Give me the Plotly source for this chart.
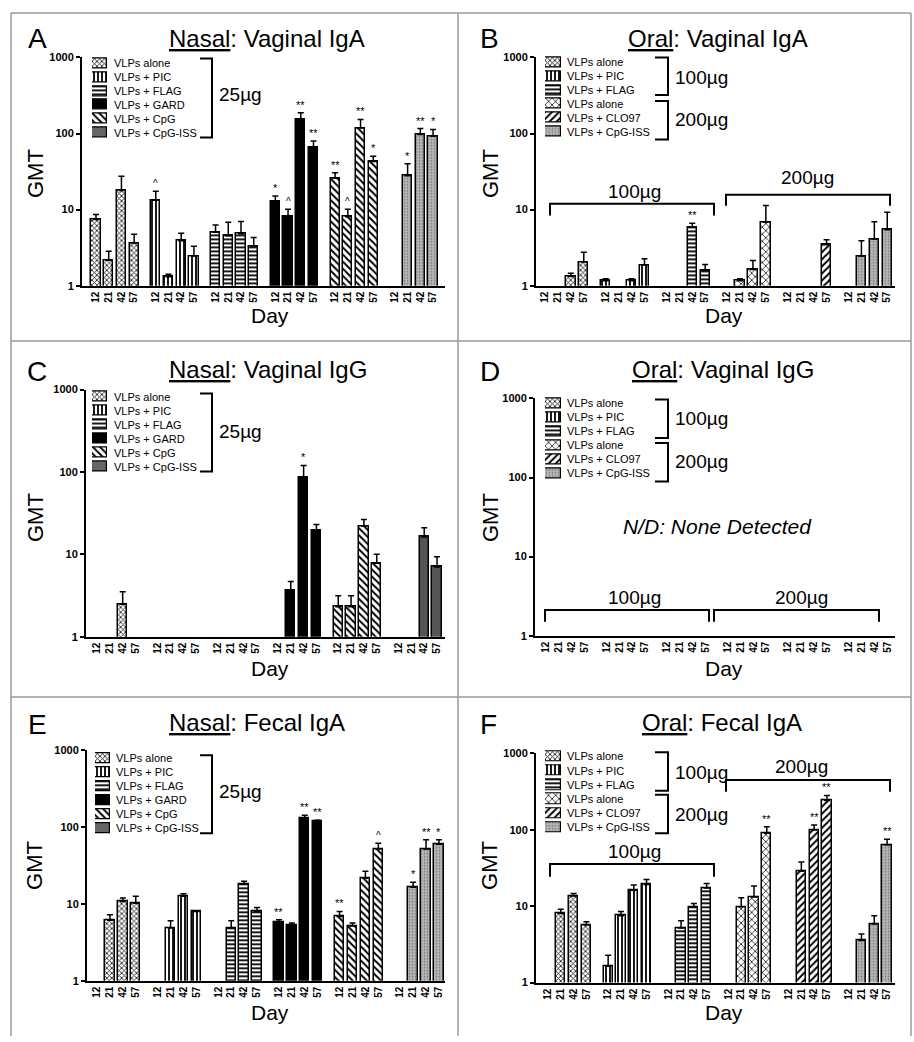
import plotly.graph_objects as go
import numpy as np

W, H = 914, 1042
FONT = "Liberation Sans, Arial, sans-serif"


def px(x):
    return x / W


def py(y):
    return 1 - y / H


# ---------------- data ----------------
days = ["12", "21", "42", "57"]
nasal_groups = ["VLPs alone", "VLPs + PIC", "VLPs + FLAG", "VLPs + GARD", "VLPs + CpG", "VLPs + CpG-ISS"]
oral_groups = ["VLPs alone", "VLPs + PIC", "VLPs + FLAG", "VLPs alone", "VLPs + CLO97", "VLPs + CpG-ISS"]
nasal_dose = ["25µg"]
oral_doses = ["100µg", "200µg"]

# Panel A: Nasal, vaginal IgA (GMT, upper error bar, significance)
A_mean = [[7.4, 2.17, 17.9, 3.64], [13.3, 1.31, 3.9, 2.45], [5.05, 4.53, 4.81, 3.33],
          [13.0, 8.06, 154, 65], [26, 8.06, 118, 42.8], [None, 27.9, 96.7, 92]]
A_upper = [[8.6, 2.84, 27.4, 4.76], [17.5, 1.42, 4.9, 3.3], [6.3, 6.8, 7.0, 4.31],
           [15.1, 10.1, 188, 80], [30.5, 10.1, 153, 50.2], [None, 40, 116, 113]]
A_sig = [["", "", "", ""], ["^", "", "", ""], ["", "", "", ""],
         ["*", "^", "**", "**"], ["**", "^", "**", "*"], ["", "*", "**", "*"]]

# Panel B: Oral, vaginal IgA
B_mean = [[None, None, 1.32, 2.05], [1.16, None, 1.16, 1.87], [None, None, 5.93, 1.6],
          [None, 1.16, 1.64, 6.8], [None, None, None, 3.46], [None, 2.45, 4.1, 5.42]]
B_upper = [[None, None, 1.46, 2.75], [1.24, None, 1.24, 2.26], [None, None, 6.61, 1.9],
           [None, 1.24, 2.15, 11.3], [None, None, None, 4.02], [None, 3.9, 6.95, 9.27]]
B_sig = [["", "", "", ""], ["", "", "", ""], ["", "", "**", ""],
         ["", "", "", ""], ["", "", "", ""], ["", "", "", ""]]

# Panel C: Nasal, vaginal IgG
C_mean = [[None, None, 2.48, None], [None] * 4, [None] * 4,
          [None, 3.6, 84.6, 19.2], [2.31, 2.31, 22, 7.78], [None, None, 16.2, 7.03]]
C_upper = [[None, None, 3.5, None], [None] * 4, [None] * 4,
           [None, 4.67, 120, 23], [3.13, 3.13, 26.5, 10], [None, None, 21, 9.3]]
C_sig = [["", "", "", ""], ["", "", "", ""], ["", "", "", ""],
         ["", "", "*", ""], ["", "", "", ""], ["", "", "", ""]]

# Panel D: Oral, vaginal IgG (none detected)
D_mean = [[None] * 4 for _ in range(6)]
D_upper = [[None] * 4 for _ in range(6)]
D_sig = [[""] * 4 for _ in range(6)]

# Panel E: Nasal, fecal IgA
E_mean = [[None, 6.1, 10.7, 10.2], [None, 4.86, 12.6, 7.98], [None, 4.86, 18.2, 7.98],
          [5.69, 5.25, 129, 118], [6.87, 5.15, 21.6, 51.7], [None, 16.5, 51.7, 60]]
E_upper = [[None, 7.2, 11.9, 12.6], [None, 6.04, 13.5, 8.1], [None, 6.04, 19.7, 9.0],
           [6.22, 5.63, 143, 123], [7.98, 5.63, 26.6, 61.8], [None, 19.1, 68.2, 68.2]]
E_sig = [["", "", "", ""], ["", "", "", ""], ["", "", "", ""],
         ["**", "", "**", "**"], ["**", "", "", "^"], ["", "*", "**", "*"]]

# Panel F: Oral, fecal IgA
F_mean = [[None, 8.04, 13.6, 5.68], [1.64, 7.5, 16.1, 19.2], [None, 5.2, 9.8, 17.3],
          [None, 9.8, 13.2, 89.7], [None, 28.6, 99, 242], [None, 3.56, 5.85, 63.4]]
F_upper = [[None, 9.14, 14.7, 6.27], [2.28, 8.53, 18.9, 22.3], [None, 6.46, 10.8, 19.8],
           [None, 12.9, 18.3, 109], [None, 37.8, 115, 281], [None, 4.34, 7.5, 75]]
F_sig = [["", "", "", ""], ["", "", "", ""], ["", "", "", ""],
         ["", "", "", "**"], ["", "", "**", "**"], ["", "", "", "**"]]

GROUP_STEP = 4.7

# ---------------- styles ----------------
def pat(shape, size, sol, fg="black", bg="white"):
    return dict(shape=shape, size=size, solidity=sol, fgcolor=fg, bgcolor=bg, fillmode="replace")

ST = {
    "alone": dict(color="white", pattern=pat("x", 3.5, 0.45, "#222", "white")),
    "alone2": dict(color="white", pattern=pat("x", 5, 0.3, "#222", "white")),
    "pic": dict(color="white", pattern=pat("|", 4, 0.45)),
    "flag": dict(color="white", pattern=pat("-", 4, 0.45)),
    "gard": dict(color="black", pattern=pat("", 4, 0.3, "black", "black")),
    "cpg": dict(color="white", pattern=pat("\\", 5, 0.4)),
    "clo": dict(color="white", pattern=pat("/", 5, 0.4)),
    "iss": dict(color="#a8a8a8", pattern=pat(".", 3, 0.2, "#6e6e6e", "#b4b4b4")),
    "issdark": dict(color="#555", pattern=pat("", 4, 0.3, "#555", "#555")),
    "isslegend": dict(color="#666", pattern=pat("", 4, 0.3, "#666", "#666")),
}

nasal_st = ["alone", "pic", "flag", "gard", "cpg", "iss"]
oral_st = ["alone", "pic", "flag", "alone2", "clo", "iss"]

panels = [
    dict(letter="A", route="Nasal", sub=": Vaginal IgA", kind="nasal", mean=A_mean, upper=A_upper, sig=A_sig,
         st=nasal_st, leg_st=nasal_st[:5] + ["isslegend"],
         xd=(82, 445), yd=(283, 52), xr=(-1.1, 27.44), letter_xy=(37, 33), title_xy=(267, 33),
         gmt_xy=(35, 170), day_xy=(270, 313), leg=dict(x=(92, 107), y=(51, 135), tx=112),
         lb=[(200, 212, 53, 133, 217, 90)], hb=[]),
    dict(letter="B", route="Oral", sub=": Vaginal IgA", kind="oral", mean=B_mean, upper=B_upper, sig=B_sig,
         st=oral_st, leg_st=oral_st,
         xd=(536, 895), yd=(283, 52), xr=(-0.7, 27.1), letter_xy=(489, 33), title_xy=(718, 33),
         gmt_xy=(490, 170), day_xy=(724, 313), leg=dict(x=(545, 561), y=(50, 134), tx=565),
         lb=[(655, 668, 52, 90, 673, 72), (655, 668, 96, 135, 673, 115)],
         hb=[(550, 714, 200, 212, 634, 188), (726, 890, 191, 202, 807, 174)]),
    dict(letter="C", route="Nasal", sub=": Vaginal IgG", kind="nasal", mean=C_mean, upper=C_upper, sig=C_sig,
         st=nasal_st[:5] + ["issdark"], leg_st=nasal_st[:5] + ["isslegend"],
         xd=(86, 445), yd=(638, 388), xr=(-0.86, 27.12), letter_xy=(37, 370), title_xy=(268, 368),
         gmt_xy=(35, 518), day_xy=(270, 670), leg=dict(x=(92, 107), y=(388, 473), tx=112),
         lb=[(200, 212, 392, 471, 217, 430)], hb=[]),
    dict(letter="D", route="Oral", sub=": Vaginal IgG", kind="oral", mean=D_mean, upper=D_upper, sig=D_sig,
         st=oral_st, leg_st=oral_st,
         xd=(535, 895), yd=(637, 397), xr=(-0.85, 27.1), letter_xy=(490, 370), title_xy=(723, 368),
         gmt_xy=(490, 518), day_xy=(724, 670), leg=dict(x=(545, 561), y=(395, 480), tx=565),
         lb=[(655, 668, 398, 437, 673, 417), (655, 668, 442, 481, 673, 461)],
         hb=[(545, 709, 611, 623, 634, 598), (714, 879, 611, 623, 801, 598)],
         nd=(717, 527)),
    dict(letter="E", route="Nasal", sub=": Fecal IgA", kind="nasal", mean=E_mean, upper=E_upper, sig=E_sig,
         st=nasal_st, leg_st=nasal_st[:5] + ["isslegend"],
         xd=(87, 445), yd=(986, 753), xr=(-0.78, 26.97), letter_xy=(37, 727), title_xy=(257, 725),
         gmt_xy=(35, 870), day_xy=(270, 1018), leg=dict(x=(95, 110), y=(754, 839), tx=114),
         lb=[(200, 212, 758, 837, 217, 795)], hb=[]),
    dict(letter="F", route="Oral", sub=": Fecal IgA", kind="oral", mean=F_mean, upper=F_upper, sig=F_sig,
         st=oral_st, leg_st=oral_st,
         xd=(536, 895), yd=(988, 756), xr=(-0.94, 27.12), letter_xy=(488, 727), title_xy=(722, 725),
         gmt_xy=(490, 870), day_xy=(724, 1018), leg=dict(x=(545, 561), y=(752, 838), tx=565),
         lb=[(655, 668, 755, 794, 673, 775), (655, 668, 798, 837, 673, 818)],
         hb=[(550, 714, 868, 881, 634, 855), (726, 890, 783, 795, 801, 769)]),
]

fig = go.Figure()
layout = dict(width=W, height=H, autosize=False, margin=dict(l=0, r=0, t=0, b=0),
              paper_bgcolor="white", plot_bgcolor="rgba(0,0,0,0)", showlegend=False,
              font=dict(family=FONT, color="black"), bargap=0)
annotations = []
shapes = []

positions = [g * GROUP_STEP + i for g in range(6) for i in range(4)]
ticktext = days * 6


def ann(x, y, text, size, **kw):
    d = dict(x=px(x), y=py(y), xref="paper", yref="paper", text=text, showarrow=False,
             font=dict(family=FONT, size=size, color="black"))
    d.update(kw)
    annotations.append(d)


def path_shape(pts):
    p = "M " + " L ".join(f"{px(a):.5f},{py(b):.5f}" for a, b in pts)
    shapes.append(dict(type="path", path=p, xref="paper", yref="paper",
                       line=dict(color="black", width=2)))


for k, P in enumerate(panels):
    n = k + 1
    sx = "" if n == 1 else str(n)
    groups = nasal_groups if P["kind"] == "nasal" else oral_groups
    for g in range(6):
        xs = [g * GROUP_STEP + i for i in range(4)]
        m = P["mean"][g]
        u = P["upper"][g]
        st = ST[P["st"][g]]
        fig.add_trace(go.Bar(
            x=xs, y=m, width=0.72, xaxis="x" + sx, yaxis="y" + sx, name=groups[g],
            marker=dict(color=st["color"], pattern=st["pattern"], line=dict(color="black", width=1.5)),
            error_y=dict(type="data", symmetric=False,
                         array=[(uu - mm) if mm is not None else None for mm, uu in zip(m, u)],
                         arrayminus=[0] * 4, color="black", thickness=1.5, width=3),
        ))
        for i in range(4):
            s = P["sig"][g][i]
            if s:
                annotations.append(dict(x=xs[i], y=np.log10(u[i]), xref="x" + sx, yref="y" + sx,
                                        text=s, showarrow=False, yanchor="bottom", yshift=0,
                                        font=dict(family=FONT, size=11 if s != "^" else 10, color="black")))
    layout["xaxis" + sx] = dict(domain=[px(P["xd"][0]), px(P["xd"][1])], range=list(P["xr"]),
                                anchor="y" + sx, tickmode="array", tickvals=positions, ticktext=ticktext,
                                tickangle=-90, tickfont=dict(family=FONT, size=10, weight="bold"),
                                showline=True, linecolor="black", linewidth=2, ticks="",
                                showgrid=False, zeroline=False, fixedrange=True)
    layout["yaxis" + sx] = dict(domain=[py(P["yd"][0]), py(P["yd"][1])], type="log", range=[0, 3],
                                anchor="x" + sx, tickmode="array", tickvals=[1, 10, 100, 1000],
                                ticktext=["1", "10", "100", "1000"], ticks="outside", ticklen=4,
                                tickwidth=1.5, tickcolor="black",
                                tickfont=dict(family=FONT, size=11, weight="bold"),
                                showline=True, linecolor="black", linewidth=2,
                                showgrid=False, zeroline=False, fixedrange=True)

    # legend inset: swatches drawn as small horizontal bars
    ln = n + 6
    lx = str(ln)
    for g in range(6):
        st = ST[P["leg_st"][g]]
        fig.add_trace(go.Bar(
            x=[1], y=[g], orientation="h", width=0.72, xaxis="x" + lx, yaxis="y" + lx,
            name=groups[g], cliponaxis=False,
            marker=dict(color=st["color"], pattern=st["pattern"], line=dict(color="black", width=1.2)),
        ))
    L = P["leg"]
    layout["xaxis" + lx] = dict(domain=[px(L["x"][0]), px(L["x"][1])], range=[0, 1], anchor="y" + lx,
                                visible=False, fixedrange=True)
    layout["yaxis" + lx] = dict(domain=[py(L["y"][1]), py(L["y"][0])], range=[5.5, -0.5], anchor="x" + lx,
                                visible=False, fixedrange=True)
    slot = (L["y"][1] - L["y"][0]) / 6
    for g in range(6):
        ann(L["tx"], L["y"][0] + slot * (g + 0.5), groups[g], 11, xanchor="left", yanchor="middle")

    # legend dose brackets
    doses = nasal_dose if P["kind"] == "nasal" else oral_doses
    for j, (x0, x1, y0, y1, tx, ty) in enumerate(P["lb"]):
        path_shape([(x0, y0), (x1, y0), (x1, y1), (x0, y1)])
        ann(tx, ty, doses[j], 19, xanchor="left", yanchor="middle")
    # dose brackets over bars
    for j, (x0, x1, y0, y1, tx, ty) in enumerate(P["hb"]):
        path_shape([(x0, y1), (x0, y0), (x1, y0), (x1, y1)])
        ann(tx, ty, oral_doses[j], 19, xanchor="center", yanchor="middle")

    # texts
    ann(P["letter_xy"][0], P["letter_xy"][1], P["letter"], 28, xanchor="center", yanchor="middle")
    ann(P["title_xy"][0], P["title_xy"][1],
        f'<span style="text-decoration:underline">{P["route"]}</span>{P["sub"]}', 24,
        xanchor="center", yanchor="middle")
    ann(P["gmt_xy"][0], P["gmt_xy"][1], "GMT", 22, textangle=-90, xanchor="center", yanchor="middle")
    ann(P["day_xy"][0], P["day_xy"][1], "Day", 21, xanchor="center", yanchor="middle")
    if "nd" in P:
        ann(P["nd"][0], P["nd"][1], "<i>N/D: None Detected</i>", 21, xanchor="center", yanchor="middle")

# panel frame lines
GRAY = "#9a9a9a"
for (x0, y0, x1, y1) in [(11, 7, 911, 7), (11, 7, 11, H), (911, 7, 911, H), (458, 7, 458, H),
                         (11, 339, 911, 339), (11, 699, 911, 699)]:
    shapes.append(dict(type="line", x0=px(x0), y0=py(y0), x1=px(x1), y1=py(y1), xref="paper", yref="paper",
                       line=dict(color=GRAY, width=1.5)))

layout["annotations"] = annotations
layout["shapes"] = shapes
fig.update_layout(**layout)
fig.write_html("out.html", config={"displayModeBar": False},
               post_script="document.body.style.margin='0px';")
